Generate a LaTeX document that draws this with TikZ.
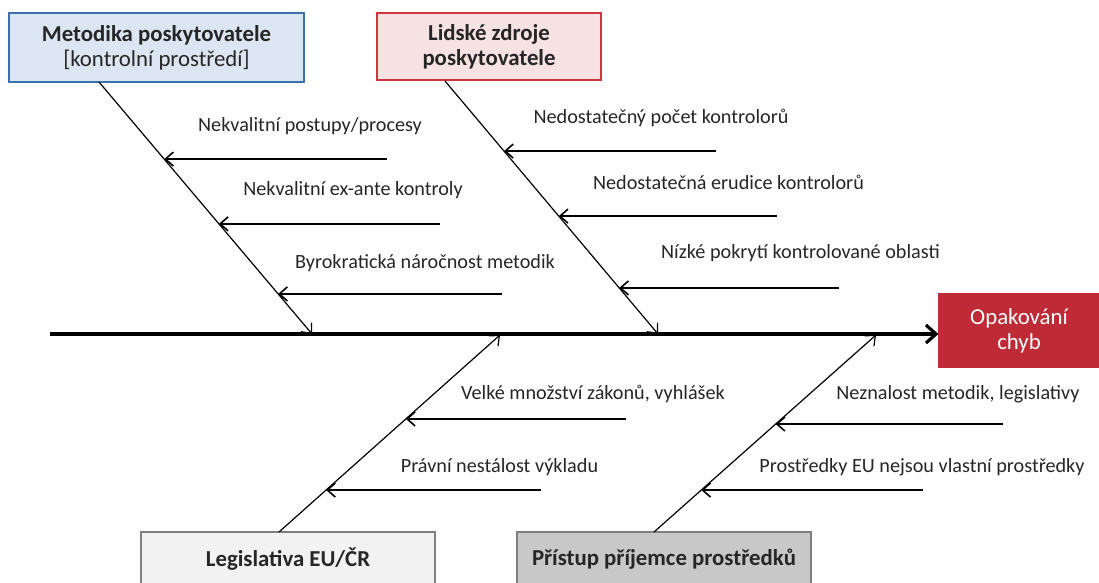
\documentclass[tikz,border=0pt]{standalone}
\usepackage{fontspec}
\setmainfont{Carlito}
\usetikzlibrary{arrows.meta,calc}

\definecolor{metfill}{HTML}{DCE6F2}
\definecolor{metline}{HTML}{3A6FB0}
\definecolor{lidfill}{HTML}{F6E1E3}
\definecolor{lidline}{HTML}{D0353F}
\definecolor{effred}{HTML}{BE2A36}
\definecolor{legfill}{HTML}{F2F2F2}
\definecolor{pristfill}{HTML}{C8C8C8}
\definecolor{boxline}{HTML}{7F7F7F}
\newcommand{\fishfont}{\fontsize{10.1}{12.5}\selectfont}
\newcommand{\boxfont}{\fontsize{11.4}{12.5}\selectfont}

\begin{document}
\begin{tikzpicture}[x=0.5pt,y=-0.5pt,
  box/.style={draw,line width=0.6pt,align=center,inner sep=0pt,font=\boxfont,text=black!85},
  bone/.style={line width=0.6pt,-{Straight Barb[length=4pt,width=7pt]}},
  cause/.style={line width=0.8pt,-{Straight Barb[length=4pt,width=7pt]}},
  why/.style={font=\fishfont,text=black!85}]
\clip (0,0) rectangle (1099,583);

% hlavni kategorie
\node[box,draw=metline,fill=metfill,minimum width=147.5pt,minimum height=34.5pt] (metodika) at (156.5,47.5) {\textbf{Metodika poskytovatele}\\{[kontrolní prostředí]}};
\node[box,draw=lidline,fill=lidfill,minimum width=112pt,minimum height=33.5pt] (lidske) at (489,46.5) {\textbf{Lidské zdroje}\\\textbf{poskytovatele}};
\node[box,draw=boxline,fill=legfill,minimum width=147pt,minimum height=27pt] (legislativa) at (288,559) {\textbf{Legislativa EU/ČR}};
\node[box,draw=boxline,fill=pristfill,minimum width=147pt,minimum height=27pt] (pristup) at (664,559) {\textbf{Přístup příjemce prostředků}};
\node[box,draw=effred,fill=effred,text=white,minimum width=80pt,minimum height=36.5pt] (chyby) at (1019,330.5) {Opakování\\chyb};

% pater
\coordinate (spine) at (50,334);
\draw[line width=1.6pt,-{Straight Barb[length=5pt,width=9pt]}] (spine) -- (chyby.west |- spine);

% kosti
\coordinate (m0) at (99,82);
\coordinate (m1) at (312,334);
\coordinate (l0) at (445,81);
\coordinate (l1) at (658,334);
\coordinate (g0) at (279,532);
\coordinate (g1) at (500,335);
\coordinate (p0) at (654,532);
\coordinate (p1) at (876,335);
\draw[bone] (m0) -- (m1);
\draw[bone] (l0) -- (l1);
\draw[bone] (g0) -- (g1);
\draw[bone] (p0) -- (p1);

% metodika
\coordinate (m1a) at ($(m0)!0.306!(m1)$);
\coordinate (m1b) at ($(m1a)+(223,0)$);
\coordinate (m2a) at ($(m0)!0.563!(m1)$);
\coordinate (m2b) at ($(m2a)+(221,0)$);
\coordinate (m3a) at ($(m0)!0.841!(m1)$);
\coordinate (m3b) at ($(m3a)+(224,0)$);
\draw[cause] (m1b) -- (m1a);
\draw[cause] (m2b) -- (m2a);
\draw[cause] (m3b) -- (m3a);
\node[why] (nm1) at (310,126) {Nekvalitní postupy/procesy};
\node[why] (nm2) at (353,190) {Nekvalitní ex-ante kontroly};
\node[why] (nm3) at (425,263) {Byrokratická náročnost metodik};

% lidske zdroje
\coordinate (l1a) at ($(l0)!0.277!(l1)$);
\coordinate (l1b) at ($(l1a)+(212,0)$);
\coordinate (l2a) at ($(l0)!0.534!(l1)$);
\coordinate (l2b) at ($(l2a)+(218,0)$);
\coordinate (l3a) at ($(l0)!0.818!(l1)$);
\coordinate (l3b) at ($(l3a)+(220,0)$);
\draw[cause] (l1b) -- (l1a);
\draw[cause] (l2b) -- (l2a);
\draw[cause] (l3b) -- (l3a);
\node[why] (nl1) at (661,118) {Nedostatečný počet kontrolorů};
\node[why] (nl2) at (728.5,182) {Nedostatečná erudice kontrolorů};
\node[why] (nl3) at (800.5,253) {Nízké pokrytí kontrolované oblasti};

% legislativa
\coordinate (g1a) at ($(g0)!0.574!(g1)$);
\coordinate (g1b) at ($(g1a)+(220,0)$);
\coordinate (g2a) at ($(g0)!0.213!(g1)$);
\coordinate (g2b) at ($(g2a)+(215,0)$);
\draw[cause] (g1b) -- (g1a);
\draw[cause] (g2b) -- (g2a);
\node[why] (ng1) at (593,394) {Velké množství zákonů, vyhlášek};
\node[why] (ng2) at (499.5,467) {Právní nestálost výkladu};

% pristup prijemce
\coordinate (p1a) at ($(p0)!0.548!(p1)$);
\coordinate (p1b) at ($(p1a)+(227,0)$);
\coordinate (p2a) at ($(p0)!0.213!(p1)$);
\coordinate (p2b) at ($(p2a)+(222,0)$);
\draw[cause] (p1b) -- (p1a);
\draw[cause] (p2b) -- (p2a);
\node[why] (np1) at (958,394) {Neznalost metodik, legislativy};
\node[why] (np2) at (922,467) {Prostředky EU nejsou vlastní prostředky};
\end{tikzpicture}
\end{document}
